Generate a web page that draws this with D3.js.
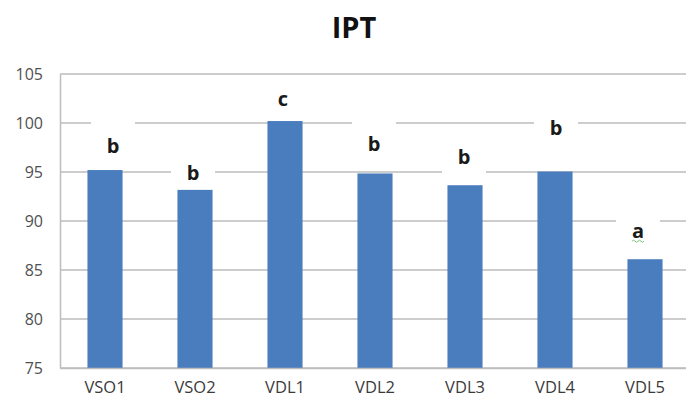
<!DOCTYPE html>
<html><head><meta charset="utf-8">
<script src="https://cdn.jsdelivr.net/npm/d3@7"></script>
<style>
html,body{margin:0;padding:0;background:#fff;}
svg{display:block;font-family:"Open Sans","Liberation Sans",Arial,sans-serif;}
</style></head>
<body><svg id="c" width="686" height="400"></svg>
<script>
const categories = ["VSO1","VSO2","VDL1","VDL2","VDL3","VDL4","VDL5"];
const values = [95.2, 93.2, 100.2, 94.85, 93.65, 95.05, 86.1];
const letters = ["b","b","c","b","b","b","a"];
const yTicks = [75,80,85,90,95,100,105];
const title = "IPT";

// layout-only: letter offsets (px) relative to bar centre / bar top
const letterDX = [8,-2,-2,-1,-1,1,-7];
const letterDY = [-24,-17,-22,-29,-28,-44,-28];

const FONT = "'Open Sans','Liberation Sans',Arial,sans-serif";
const svg = d3.select("#c");
const x = d3.scaleBand().domain(categories).range([60,690]).paddingInner(0.61).paddingOuter(0.305);
const y = d3.scaleLinear().domain([75,105]).range([368,74]);

// gridlines
svg.append("g").selectAll("line").data(yTicks).join("line")
  .attr("x1",60).attr("x2",690).attr("y1",d=>y(d)).attr("y2",d=>y(d))
  .attr("stroke","#bdbdbd").attr("stroke-width",1.5);

// y axis
const ya = svg.append("g").attr("transform","translate(60,0)")
  .call(d3.axisLeft(y).tickValues(yTicks).tickSize(0).tickPadding(17))
  .attr("font-family",FONT);
ya.select(".domain").attr("stroke","#bdbdbd").attr("stroke-width",1.5);
ya.selectAll("text").attr("font-size",16).attr("fill","#505050");

// bars
svg.append("g").selectAll("rect").data(values).join("rect")
  .attr("x",(d,i)=>x(categories[i])).attr("width",x.bandwidth())
  .attr("y",d=>y(d)).attr("height",d=>y(75)-y(d))
  .attr("fill","#4a7dbe");

// x axis
const xa = svg.append("g").attr("transform","translate(0,368)")
  .call(d3.axisBottom(x).tickSize(0).tickPadding(13))
  .attr("font-family",FONT);
xa.select(".domain").attr("stroke","#bdbdbd").attr("stroke-width",1.5);
xa.selectAll("text").attr("font-size",16.5).attr("fill","#3a3a3a");

// letter labels with white boxes
const lg = svg.append("g").selectAll("g").data(letters).join("g")
  .attr("transform",(d,i)=>`translate(${x(categories[i])+x.bandwidth()/2+letterDX[i]},${y(values[i])+letterDY[i]})`);
lg.append("rect").attr("x",-22).attr("y",-24).attr("width",44).attr("height",41).attr("fill","#fff");
lg.append("text").text(d=>d).attr("text-anchor","middle").attr("dy","0.35em")
  .attr("font-family",FONT).attr("font-size",20).attr("font-weight","bold").attr("fill","#1a1a1a");
lg.filter(d=>d==="a").append("path").attr("d","M-6,10 q1.5,-2 3,0 t3,0 t3,0 t3,0")
  .attr("fill","none").attr("stroke","#7ec87e").attr("stroke-width",1);

// title
svg.append("text").attr("x",354).attr("y",38).attr("text-anchor","middle")
  .attr("font-family",FONT).attr("font-size",29).attr("font-weight","bold").attr("fill","#111").text(title);
</script></body></html>
